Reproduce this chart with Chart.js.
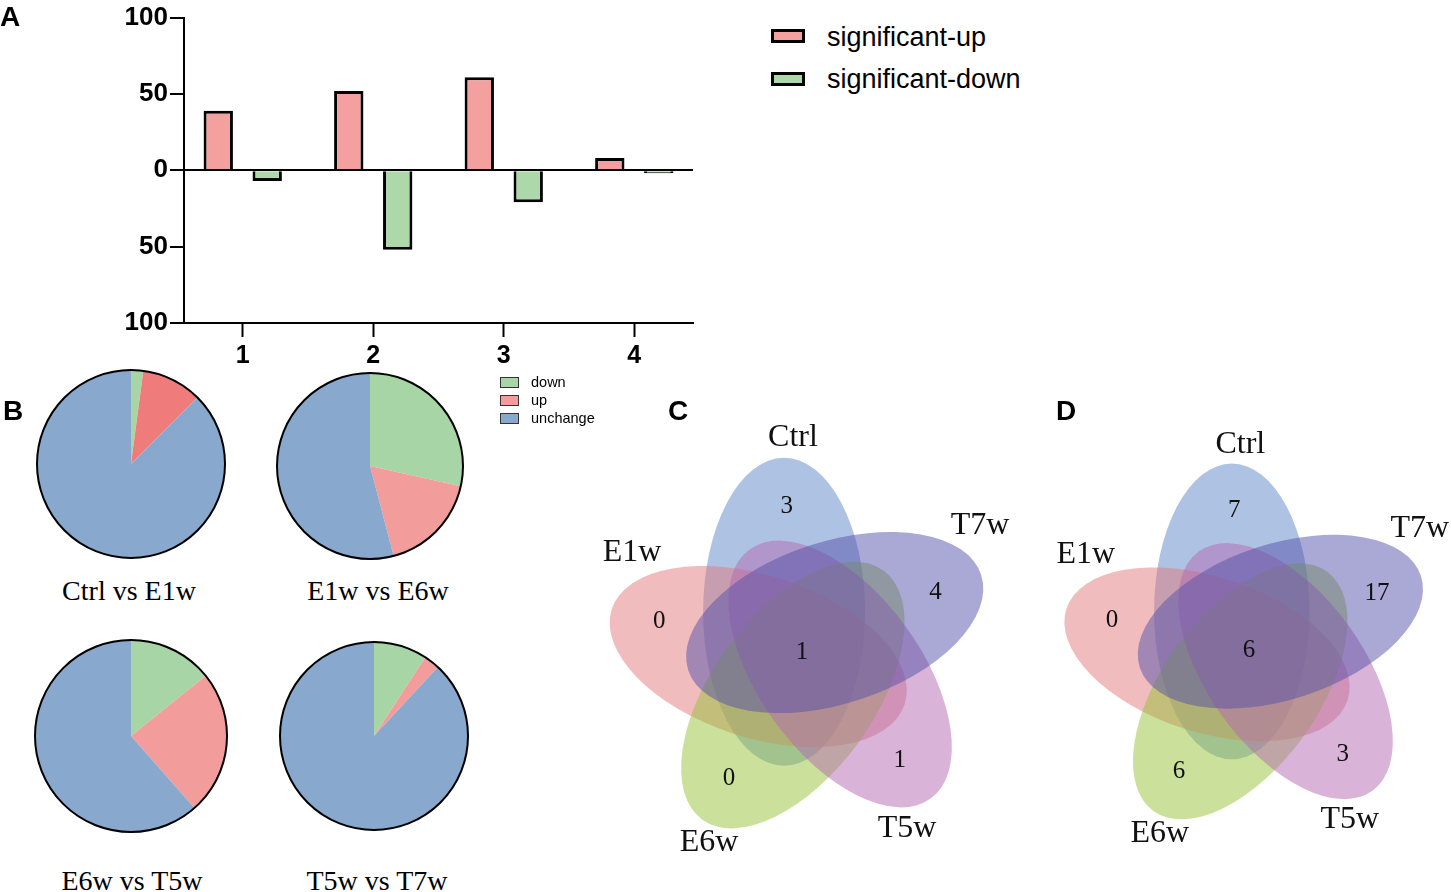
<!DOCTYPE html>
<html>
<head>
<meta charset="utf-8">
<script src="https://cdn.jsdelivr.net/npm/chart.js@4.4.1/dist/chart.umd.min.js"></script>
<style>
  body { margin: 0; background: #fff; }
  #page { position: relative; width: 1451px; height: 892px; overflow: hidden; font-family: "Liberation Sans", Arial, sans-serif; color: #000; }
  canvas { position: absolute; }
  .txt { position: absolute; line-height: 1; white-space: nowrap; transform: translate(-50%, -50%); }
  .panel { font-weight: bold; font-size: 28px; }
  .serif { font-family: "Liberation Serif", "Times New Roman", serif; }
  .pieTitle { font-size: 28px; }
  .box { position: absolute; box-sizing: border-box; }
  .legA { position: absolute; font-size: 27px; line-height: 1; transform: translateY(-50%); }
  .legB { position: absolute; font-size: 14.5px; line-height: 1; transform: translateY(-50%); }
</style>
</head>
<body>
<div id="page">
  <canvas id="barChart" width="700" height="372" style="left:0;top:0"></canvas>
  <canvas id="pie0" width="200" height="200"></canvas>
  <canvas id="pie1" width="200" height="200"></canvas>
  <canvas id="pie2" width="200" height="200"></canvas>
  <canvas id="pie3" width="200" height="200"></canvas>
  <canvas id="vennC" width="480" height="480"></canvas>
  <canvas id="vennD" width="480" height="480"></canvas>
</div>
<script>
// ---- panel A: significant genes per comparison
const barCategories = ['1', '2', '3', '4'];
const sigUp = [39, 52, 61, 8];
const sigDown = [-7, -52, -21, -2];
const barColors = { up: '#f4a09f', down: '#acd8aa' };

// ---- panel B: share of down / up / unchange
const pieLabels = ['down', 'up', 'unchange'];
const pieTitles = ['Ctrl vs E1w', 'E1w vs E6w', 'E6w vs T5w', 'T5w vs T7w'];
const pieDown = [2.1, 28.5, 14.2, 9.2];
const pieUp = [10.4, 17.4, 24.3, 2.7];
const pieUnchange = [87.5, 54.1, 61.5, 88.1];
const pieUpColors = ['#ef7b7b', '#f39c9c', '#f39c9c', '#f39c9c'];
const pieGreen = '#a8d5a5', pieBlue = '#88a8cd';
// centre x, centre y, radius of each pie on the page
const pieBoxes = [[131, 464, 94], [370, 466, 93], [131, 736, 96], [374, 736, 94]];

// ---- panels C, D: five set venn
const vennSets = ['Ctrl', 'T7w', 'T5w', 'E6w', 'E1w'];
const vennOnlyC = [3, 4, 1, 0, 0];
const vennOnlyD = [7, 17, 3, 6, 0];
const vennCoreC = 1;
const vennCoreD = 6;
const vennFills = ['rgba(93,135,199,0.5)', 'rgba(85,81,169,0.5)', 'rgba(179,105,177,0.5)',
                   'rgba(151,195,55,0.5)', 'rgba(225,121,123,0.5)'];
const vennDrawOrder = [0, 4, 3, 2, 1];
// geometry of the 5-ellipse layout (px at scale 1)
const VENN = { d: 44, a: 154, b: 81, phi0: -114, tilt: 24, labelTurn: 18, labelDist: 146 };
const vennNamePos = [[-9, -214], [178, -126], [105, 177], [-93, 191], [-170, -99]];

const page = document.getElementById('page');
function addText(html, x, y, cls) {
  const d = document.createElement('div');
  d.className = 'txt ' + (cls || '');
  d.style.left = x + 'px'; d.style.top = y + 'px';
  d.innerHTML = html;
  page.appendChild(d);
}
function addBox(x, y, w, h, fill, border, bw) {
  const b = document.createElement('div');
  b.className = 'box';
  b.style.cssText = `left:${x}px;top:${y}px;width:${w}px;height:${h}px;background:${fill};border:${bw}px solid ${border}`;
  page.appendChild(b);
}
function addLegendText(cls, x, y, text) {
  const d = document.createElement('div');
  d.className = cls;
  d.style.left = x + 'px'; d.style.top = y + 'px';
  d.textContent = text;
  page.appendChild(d);
}

// ---------- A
function drawBars() {
  const pts = arr => arr.map((v, i) => ({ x: i + 1, y: v }));
  new Chart(document.getElementById('barChart'), {
    type: 'bar',
    data: {
      datasets: [
        { label: 'significant-up', data: pts(sigUp), backgroundColor: barColors.up, borderColor: '#000', borderWidth: 3 },
        { label: 'significant-down', data: pts(sigDown), backgroundColor: barColors.down, borderColor: '#000', borderWidth: 3 }
      ]
    },
    options: {
      responsive: false, animation: false, events: [],
      categoryPercentage: 0.75, barPercentage: 0.6,
      layout: { padding: { top: 16, right: 7, left: 0, bottom: 0 } },
      scales: {
        x: {
          type: 'linear', min: 0.55, max: 4.45, offset: false,
          afterBuildTicks: s => { s.ticks = barCategories.map((c, i) => ({ value: i + 1 })); },
          afterFit: s => { s.height = 49; },
          ticks: { callback: v => barCategories[v - 1], color: '#000', padding: 4,
                   font: { family: 'Liberation Sans', weight: 'bold', size: 25 } },
          grid: { offset: false, drawOnChartArea: false, drawTicks: true, tickLength: 14, tickColor: '#000', tickWidth: 2 },
          border: { display: true, color: '#000', width: 2 }
        },
        y: {
          min: -100, max: 100,
          afterFit: s => { s.width = 184; },
          ticks: { stepSize: 50, callback: v => Math.abs(v), color: '#000', padding: 2,
                   font: { family: 'Liberation Sans', weight: 'bold', size: 26 } },
          grid: { color: c => (c.tick && c.tick.value === 0 ? '#000' : 'rgba(0,0,0,0)'), lineWidth: 2,
                  tickLength: 14, tickColor: '#000', tickWidth: 2 },
          border: { display: true, color: '#000', width: 2 }
        }
      },
      plugins: { legend: { display: false }, tooltip: { enabled: false } }
    }
  });
  // legend
  addBox(771, 29, 34, 14, barColors.up, '#000', 3);
  addBox(771, 72, 34, 14, barColors.down, '#000', 3);
  addLegendText('legA', 827, 37, 'significant-up');
  addLegendText('legA', 827, 79, 'significant-down');
}

// ---------- B
const pieOutline = {
  id: 'pieOutline',
  afterDatasetsDraw(chart) {
    const arc = chart.getDatasetMeta(0).data[0];
    const c = chart.ctx;
    c.save();
    c.beginPath();
    c.arc(arc.x, arc.y, arc.outerRadius, 0, Math.PI * 2);
    c.lineWidth = 2; c.strokeStyle = '#000'; c.stroke();
    c.restore();
  }
};
function drawPie(i) {
  const el = document.getElementById('pie' + i);
  const [cx, cy, r] = pieBoxes[i];
  el.style.left = (cx - 100) + 'px'; el.style.top = (cy - 100) + 'px';
  new Chart(el, {
    type: 'pie',
    data: {
      labels: pieLabels,
      datasets: [{ data: [pieDown[i], pieUp[i], pieUnchange[i]],
                   backgroundColor: [pieGreen, pieUpColors[i], pieBlue], borderWidth: 0 }]
    },
    options: {
      responsive: false, animation: false, events: [], radius: r,
      layout: { padding: 0 },
      plugins: { legend: { display: false }, tooltip: { enabled: false } }
    },
    plugins: [pieOutline]
  });
}

// ---------- C, D
function vennPlugin(k, values) {
  const rad = Math.PI / 180;
  return {
    id: 'vennShapes',
    beforeDatasetsDraw(chart) {
      const { ctx, scales: { x, y } } = chart;
      const ux = Math.abs(x.getPixelForValue(1) - x.getPixelForValue(0));
      const uy = Math.abs(y.getPixelForValue(1) - y.getPixelForValue(0));
      ctx.save();
      vennDrawOrder.forEach(i => {
        const phi = (VENN.phi0 + 72 * i) * rad;
        ctx.beginPath();
        ctx.ellipse(x.getPixelForValue(VENN.d * k * Math.cos(phi)), y.getPixelForValue(VENN.d * k * Math.sin(phi)),
                    VENN.a * k * ux, VENN.b * k * uy, phi + VENN.tilt * rad, 0, Math.PI * 2);
        ctx.fillStyle = vennFills[i];
        ctx.fill();
      });
      ctx.restore();
    },
    afterDatasetsDraw(chart) {
      const { ctx, scales: { x, y } } = chart;
      ctx.save();
      ctx.fillStyle = '#111';
      ctx.textAlign = 'center'; ctx.textBaseline = 'middle';
      ctx.font = '25px "Liberation Serif"';
      chart.getDatasetMeta(0).data.forEach((pt, j) => ctx.fillText(String(values[j]), pt.x, pt.y));
      ctx.font = '32px "Liberation Serif"';
      vennSets.forEach((name, i) => {
        const [dx, dy] = vennNamePos[i];
        ctx.fillText(name, x.getPixelForValue(dx * k), y.getPixelForValue(dy * k));
      });
      ctx.restore();
    }
  };
}
function drawVenn(id, only, core, cx, cy, k) {
  const el = document.getElementById(id);
  el.style.left = (cx - 240) + 'px'; el.style.top = (cy - 240) + 'px';
  const pts = only.map((v, i) => {
    const a = (VENN.phi0 + 72 * i + VENN.labelTurn) * Math.PI / 180;
    return { x: VENN.labelDist * k * Math.cos(a), y: VENN.labelDist * k * Math.sin(a) };
  });
  pts.push({ x: 0, y: 0 });
  new Chart(el, {
    type: 'scatter',
    data: { datasets: [{ data: pts, pointRadius: 0 }] },
    options: {
      responsive: false, animation: false, events: [],
      layout: { padding: 0 },
      scales: {
        x: { type: 'linear', min: -240, max: 240, display: false },
        y: { type: 'linear', min: -240, max: 240, reverse: true, display: false }
      },
      plugins: { legend: { display: false }, tooltip: { enabled: false } }
    },
    plugins: [vennPlugin(k, only.concat([core]))]
  });
}

drawBars();
pieTitles.forEach((t, i) => drawPie(i));
drawVenn('vennC', vennOnlyC, vennCoreC, 802, 652, 1);
drawVenn('vennD', vennOnlyD, vennCoreD, 1249, 650, 0.96);

// texts
addText('A', 10, 17, 'panel');
addText('B', 13, 411, 'panel');
addText('C', 678, 411, 'panel');
addText('D', 1066, 411, 'panel');
const titlePos = [[129, 591], [378, 591], [132, 881], [377, 881]];
pieTitles.forEach((t, i) => addText(t, titlePos[i][0], titlePos[i][1], 'serif pieTitle'));
const legBColors = [pieGreen, '#f39c9c', pieBlue];
pieLabels.forEach((lab, i) => {
  const yc = 382 + i * 18;
  addBox(500, yc - 5, 19, 11, legBColors[i], '#333', 1.5);
  addLegendText('legB', 531, yc, lab);
});
</script>
</body>
</html>
